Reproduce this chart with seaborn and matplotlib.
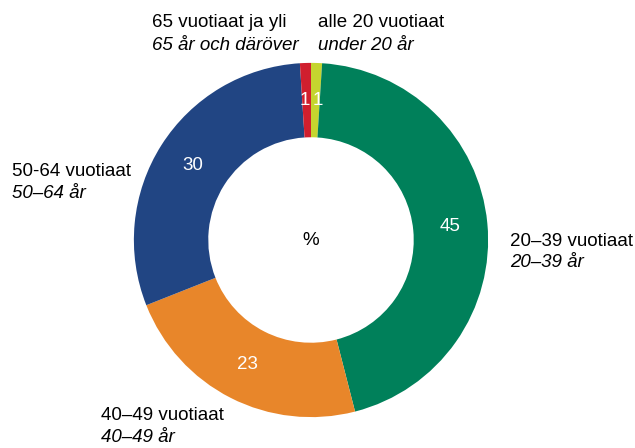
import matplotlib
matplotlib.use("Agg")
import seaborn as sns
import matplotlib.pyplot as plt

# age groups, clockwise from the top
groups_fi = ["alle 20 vuotiaat", "20–39 vuotiaat", "40–49 vuotiaat", "50-64 vuotiaat", "65 vuotiaat ja yli"]
groups_sv = ["under 20 år", "20–39 år", "40–49 år", "50–64 år", "65 år och däröver"]
shares = [1, 45, 23, 30, 1]
colors = ["#c5d52f", "#00805a", "#e8862a", "#214583", "#d01f2e"]

sns.set_theme(style="white")
plt.rcParams["font.family"] = ["Liberation Sans", "DejaVu Sans"]
plt.rcParams["text.color"] = "black"

W, H = 635, 448
fig = plt.figure(figsize=(W / 100, H / 100), dpi=100)
ax = fig.add_axes([133 / W, 30 / H, 356 / W, 356 / H])

wedges, texts, autotexts = ax.pie(
    shares, colors=colors, startangle=90, counterclock=False,
    wedgeprops=dict(width=0.42, edgecolor="none"),
    autopct=lambda p: f"{p:.0f}", pctdistance=0.79,
    textprops=dict(color="white", fontsize=13.5))
ax.set_xlim(-1.005, 1.005)
ax.set_ylim(-1.005, 1.005)
ax.set_aspect("equal")

# the two tiny slices sit side by side, push their numbers apart a hair
for t, v in zip(autotexts, shares):
    if v < 5:
        x, y = t.get_position()
        t.set_x(x + (0.012 if x > 0 else -0.012))

ax.text(0, 0, "%", ha="center", va="center", fontsize=13.5, color="black")

# label spots (left edge, first baseline, second baseline) in pixels from top-left
spots = [(318, 27, 50), (510, 246, 267), (101, 420, 442), (12, 176, 198), (152, 27, 50)]
for fi, sv, (x, y1, y2) in zip(groups_fi, groups_sv, spots):
    fig.text(x / W, 1 - y1 / H, fi, fontsize=13.5, va="baseline", ha="left", color="black")
    fig.text(x / W, 1 - y2 / H, sv, fontsize=13.5, va="baseline", ha="left",
             style="italic", color="black")

fig.savefig("out.png", dpi=100)
